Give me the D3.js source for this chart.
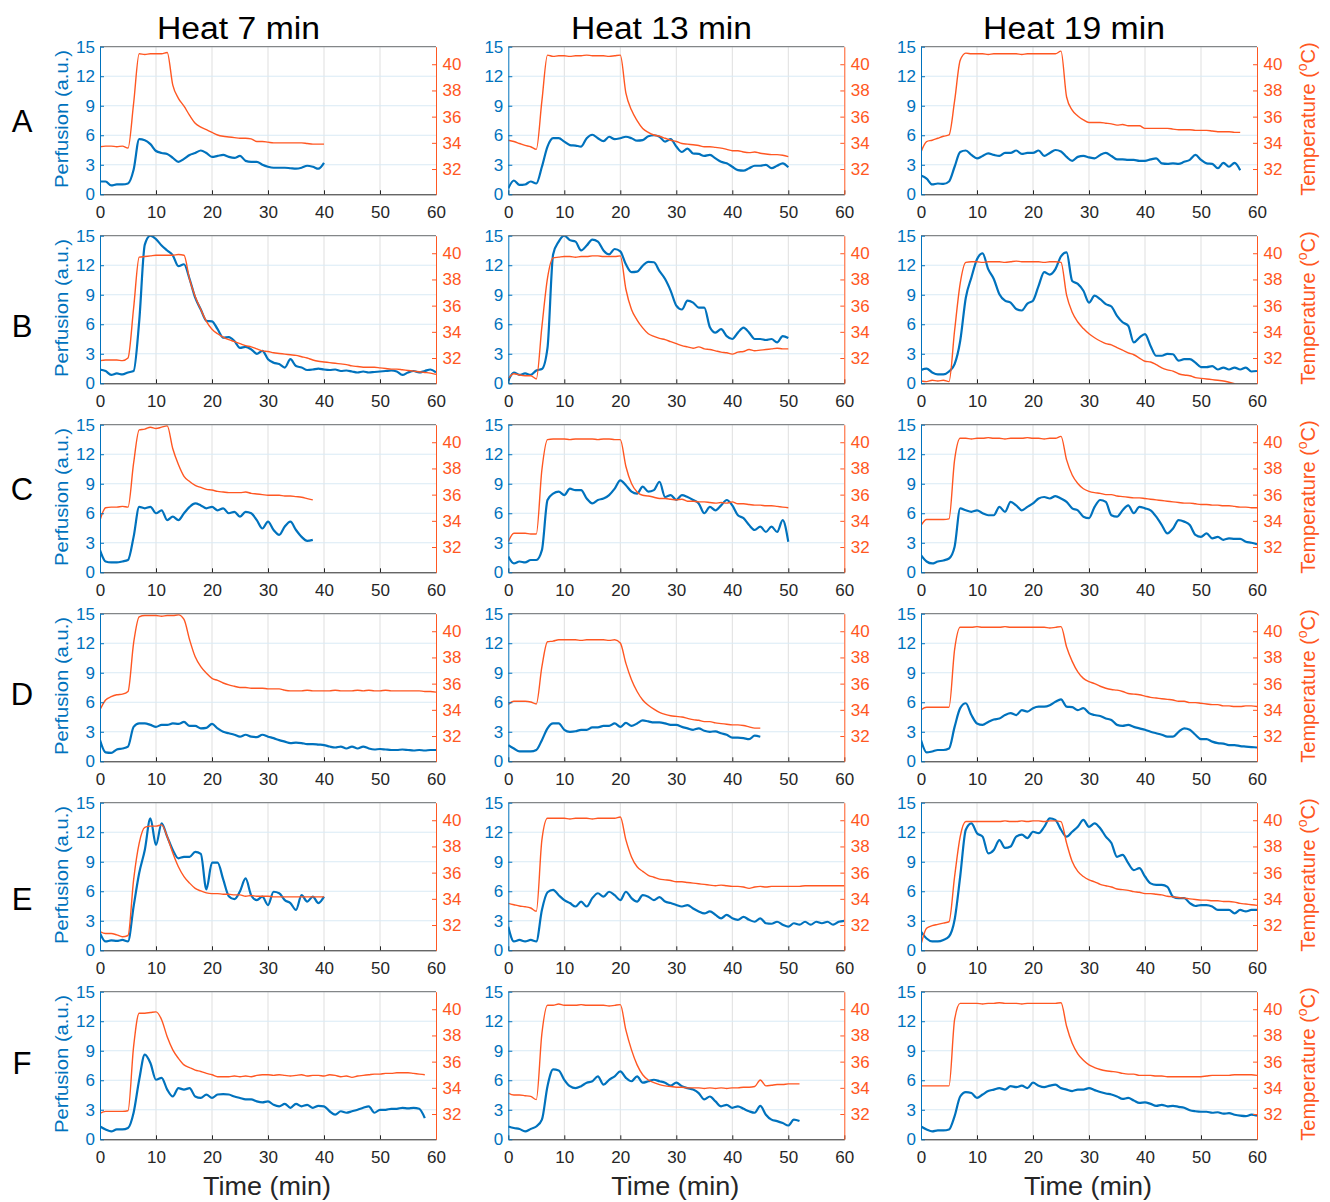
<!DOCTYPE html>
<html>
<head>
<meta charset="utf-8">
<script src="https://cdn.jsdelivr.net/npm/d3@7"></script>
<style>
body { margin: 0; background: #fff; }
svg { display: block; font-family: "Liberation Sans", Arial, sans-serif; }
</style>
</head>
<body>
<script>
// tick values and labels
const xTicks = [0, 10, 20, 30, 40, 50, 60];
const perfTicks = [0, 3, 6, 9, 12, 15];
const tempTicks = [32, 34, 36, 38, 40];
const columnTitles = ["Heat 7 min", "Heat 13 min", "Heat 19 min"];
const rowLabels = ["A", "B", "C", "D", "E", "F"];

// one value per minute, starting at t = 0
const perfA7 = [1.3,1.3,0.9,1.0,1.0,1.1,2.5,5.6,5.5,5.1,4.4,4.2,4.1,3.7,3.3,3.6,4.0,4.2,4.45,4.2,3.8,3.9,4.0,3.8,3.7,3.9,3.4,3.3,3.3,3.0,2.8,2.7,2.7,2.7,2.65,2.6,2.7,2.9,2.8,2.6,3.2];
const tempA7 = [33.7,33.75,33.75,33.7,33.75,33.6,37.0,40.8,40.75,40.8,40.8,40.8,40.9,38.4,37.4,36.8,36.1,35.5,35.2,35.0,34.8,34.6,34.5,34.45,34.4,34.35,34.35,34.3,34.1,34.1,34.05,34.0,34.0,34.0,34.0,34.0,34.0,33.95,33.9,33.9,33.9];
const perfA13 = [0.6,1.4,0.95,1.0,1.3,1.1,2.8,4.85,5.7,5.7,5.35,5.0,4.95,4.85,5.7,6.05,5.7,5.4,5.85,5.6,5.7,5.85,5.7,5.45,5.5,5.9,6.0,5.85,5.35,5.6,4.85,4.3,4.65,4.15,4.1,3.9,4.0,3.65,3.3,3.15,2.8,2.45,2.4,2.65,2.9,2.9,3.0,2.65,2.9,3.15,2.75];
const tempA13 = [34.2,34.1,33.95,33.8,33.7,33.5,37.2,40.7,40.6,40.65,40.65,40.6,40.65,40.65,40.7,40.65,40.65,40.65,40.6,40.65,40.7,37.8,36.5,35.7,35.1,34.8,34.6,34.5,34.35,34.2,34.1,33.95,33.9,33.85,33.8,33.7,33.7,33.65,33.6,33.5,33.4,33.4,33.3,33.25,33.3,33.2,33.15,33.1,33.1,33.05,32.95];
const perfA19 = [1.9,1.6,1.0,1.1,1.05,1.3,2.8,4.3,4.45,4.0,3.65,3.9,4.15,4.0,3.9,4.2,4.2,4.45,4.1,4.2,4.2,4.45,3.9,4.2,4.5,4.35,3.8,3.4,3.8,3.9,3.75,3.65,4.0,4.2,3.9,3.55,3.55,3.5,3.5,3.4,3.4,3.55,3.65,3.15,3.1,3.15,3.1,3.3,3.5,4.0,3.5,3.15,3.1,2.65,3.2,2.8,3.2,2.45];
const tempA19 = [33.3,34.1,34.2,34.35,34.5,34.6,37.2,40.3,40.85,40.8,40.8,40.8,40.75,40.8,40.8,40.8,40.8,40.8,40.75,40.8,40.8,40.8,40.8,40.8,40.8,41.0,37.5,36.5,36.05,35.75,35.55,35.55,35.55,35.5,35.45,35.35,35.4,35.3,35.3,35.3,35.1,35.1,35.1,35.1,35.1,35.05,35.0,35.0,35.0,34.95,34.95,34.95,34.9,34.85,34.85,34.85,34.8,34.8];

const perfB7 = [1.4,1.25,0.85,1.0,0.9,1.1,1.25,6.3,14.1,15.0,14.65,14.0,13.5,13.0,11.9,12.1,10.6,8.7,7.5,6.35,6.3,5.5,4.65,4.7,4.3,3.6,3.7,3.45,3.0,3.3,2.45,2.1,1.95,1.6,2.45,1.75,1.6,1.35,1.4,1.5,1.4,1.35,1.4,1.25,1.3,1.2,1.1,1.2,1.1,1.15,1.2,1.25,1.3,1.2,0.85,1.1,1.25,1.1,1.25,1.4,1.1];
const tempB7 = [31.8,31.85,31.85,31.85,31.8,32.0,35.8,39.7,39.75,39.8,39.85,39.85,39.85,39.85,39.9,39.85,38.0,36.7,35.7,34.8,34.2,33.85,33.6,33.4,33.25,33.1,32.95,32.85,32.7,32.55,32.5,32.4,32.35,32.3,32.25,32.2,32.1,32.0,31.85,31.75,31.7,31.65,31.6,31.55,31.5,31.4,31.35,31.3,31.3,31.3,31.25,31.2,31.15,31.15,31.1,31.05,31.0,30.95,30.9,30.85,30.75];
const perfB13 = [0.25,1.1,0.85,1.0,0.85,1.3,1.45,3.6,13.1,14.4,15.0,14.55,14.4,13.5,14.0,14.6,14.4,13.5,13.1,13.65,13.4,12.1,11.3,11.35,11.95,12.35,12.3,11.4,10.6,9.4,7.9,7.5,8.4,8.2,7.7,7.7,5.7,5.15,5.5,4.8,4.5,5.15,5.65,5.15,4.5,4.5,4.4,4.5,4.15,4.8,4.6];
const tempB13 = [30.45,30.8,30.7,30.65,30.65,30.4,34.4,38.1,39.65,39.7,39.75,39.75,39.7,39.75,39.75,39.8,39.8,39.75,39.75,39.75,39.8,37.25,35.7,34.9,34.3,33.85,33.65,33.5,33.4,33.25,33.1,32.95,32.85,32.75,32.85,32.7,32.65,32.55,32.45,32.4,32.3,32.45,32.5,32.65,32.55,32.6,32.65,32.7,32.75,32.7,32.7];
const perfB19 = [1.35,1.5,1.1,0.9,0.9,1.2,1.95,4.3,8.7,10.75,12.6,13.2,11.6,10.6,9.05,8.4,8.2,7.55,7.4,8.1,8.4,9.9,11.3,11.05,11.6,12.9,13.3,10.4,10.1,9.4,8.2,8.9,8.55,8.05,7.8,6.85,6.2,5.85,4.15,4.65,5.0,3.8,2.8,2.8,3.0,2.95,2.3,2.45,2.45,2.1,1.65,1.65,1.75,1.4,1.6,1.4,1.6,1.4,1.6,1.2,1.25];
const tempB19 = [30.25,30.2,30.3,30.25,30.3,30.2,34.1,37.7,39.3,39.35,39.35,39.3,39.35,39.35,39.35,39.3,39.35,39.4,39.35,39.35,39.35,39.35,39.3,39.35,39.35,39.3,36.8,35.5,34.75,34.25,33.85,33.55,33.3,33.1,33.0,32.8,32.6,32.4,32.25,32.0,31.75,31.7,31.5,31.25,31.1,31.0,30.8,30.7,30.65,30.5,30.45,30.4,30.35,30.3,30.25,30.15,30.05];

const perfC7 = [2.25,1.1,1.0,1.0,1.1,1.25,3.6,6.65,6.5,6.65,6.0,6.3,5.3,5.65,5.3,6.0,6.65,7.0,6.8,6.5,6.65,6.3,6.5,6.0,6.15,5.65,6.15,6.0,5.3,4.45,5.15,4.3,3.8,4.65,5.15,4.3,3.6,3.2,3.3];
const tempC7 = [34.05,35.0,35.05,35.05,35.1,35.05,38.4,40.95,41.0,41.15,41.05,41.15,41.25,39.5,38.3,37.4,37.0,36.7,36.55,36.4,36.35,36.25,36.2,36.15,36.15,36.15,36.2,36.1,36.05,36.0,35.95,35.95,35.95,35.9,35.9,35.85,35.8,35.7,35.6];
const perfC13 = [1.6,0.9,1.1,1.0,1.25,1.25,2.25,7.35,8.0,8.2,7.85,8.5,8.35,8.35,7.5,7.0,7.35,7.5,7.85,8.5,9.35,8.85,8.2,8.0,8.7,8.2,8.35,9.2,7.65,7.85,7.35,7.85,7.65,7.35,7.0,6.0,6.65,6.3,6.8,7.35,6.8,5.8,5.5,4.8,4.3,4.65,4.1,4.65,4.1,5.3,3.1];
const tempC13 = [32.4,33.05,33.05,33.05,33.0,33.0,37.9,40.2,40.25,40.25,40.25,40.2,40.25,40.25,40.25,40.25,40.2,40.25,40.25,40.2,40.2,38.15,36.85,36.2,35.95,35.9,35.8,35.7,35.7,35.65,35.6,35.65,35.5,35.5,35.45,35.45,35.4,35.35,35.4,35.35,35.45,35.3,35.3,35.25,35.2,35.2,35.15,35.15,35.1,35.05,35.0];
const perfC19 = [1.75,1.1,0.9,1.1,1.2,1.4,2.6,6.5,6.3,6.15,6.3,6.0,5.8,5.8,6.65,6.15,7.15,6.8,6.3,6.65,7.0,7.5,7.65,7.5,7.75,7.5,7.15,6.5,6.3,5.65,5.5,6.65,7.35,7.15,5.8,5.65,6.3,6.8,6.0,6.65,6.5,6.3,5.65,4.8,3.95,4.45,5.3,5.15,4.8,3.8,3.6,3.95,3.45,3.6,3.3,3.45,3.4,3.4,3.1,3.0,2.85];
const tempC19 = [33.65,34.1,34.1,34.1,34.1,34.15,38.65,40.3,40.3,40.25,40.3,40.3,40.35,40.3,40.3,40.25,40.3,40.3,40.3,40.35,40.3,40.3,40.25,40.3,40.3,40.45,38.65,37.5,36.85,36.45,36.25,36.15,36.1,36.0,36.0,35.9,35.85,35.8,35.75,35.75,35.7,35.65,35.6,35.55,35.5,35.45,35.4,35.35,35.35,35.3,35.25,35.25,35.2,35.2,35.15,35.15,35.1,35.05,35.05,35.0,35.0];

const perfD7 = [2.15,0.9,0.85,1.2,1.3,1.5,3.5,3.85,3.85,3.7,3.5,3.7,3.7,3.85,3.8,4.0,3.6,3.6,3.35,3.4,3.8,3.35,3.0,2.85,2.7,2.5,2.7,2.5,2.45,2.7,2.5,2.35,2.15,2.0,1.85,1.9,1.85,1.75,1.75,1.7,1.65,1.5,1.4,1.5,1.3,1.5,1.3,1.5,1.3,1.2,1.25,1.2,1.15,1.15,1.2,1.15,1.1,1.15,1.1,1.15,1.15];
const tempD7 = [34.0,34.75,35.0,35.15,35.2,35.4,39.1,41.1,41.2,41.2,41.2,41.15,41.2,41.2,41.25,40.9,39.35,38.05,37.3,36.8,36.4,36.25,36.05,35.9,35.8,35.7,35.7,35.65,35.65,35.65,35.6,35.6,35.6,35.5,35.45,35.45,35.45,35.5,35.45,35.45,35.45,35.45,35.5,35.45,35.45,35.45,35.5,35.45,35.5,35.45,35.45,35.5,35.45,35.45,35.45,35.45,35.45,35.45,35.4,35.4,35.35];
const perfD13 = [1.65,1.3,1.0,1.0,1.0,1.15,2.15,3.35,3.85,3.85,3.2,3.0,3.05,3.2,3.2,3.45,3.45,3.6,3.6,3.85,3.5,3.9,3.6,3.85,4.15,4.05,3.95,3.95,3.85,3.7,3.7,3.5,3.35,3.2,3.35,3.1,3.0,3.05,2.85,2.7,2.4,2.4,2.35,2.25,2.6,2.5];
const tempD13 = [34.4,34.65,34.65,34.65,34.6,34.45,37.3,39.2,39.25,39.35,39.35,39.35,39.35,39.3,39.35,39.35,39.35,39.35,39.3,39.35,39.1,37.55,36.3,35.4,34.75,34.35,34.05,33.8,33.65,33.55,33.5,33.45,33.35,33.25,33.2,33.1,33.1,33.0,32.95,32.9,32.85,32.85,32.8,32.7,32.6,32.6];
const perfD19 = [2.15,0.9,1.0,1.15,1.15,1.3,3.5,5.4,5.9,4.7,3.85,3.7,4.0,4.25,4.35,4.7,4.9,4.7,5.2,5.05,5.4,5.55,5.55,5.7,6.05,6.3,5.55,5.5,5.2,5.4,4.9,4.7,4.6,4.35,4.2,3.7,3.6,3.7,3.5,3.35,3.2,3.0,2.85,2.7,2.5,2.5,3.0,3.35,3.2,2.7,2.25,2.25,2.0,1.85,1.8,1.65,1.65,1.55,1.5,1.45,1.4];
const tempD19 = [34.0,34.2,34.2,34.2,34.2,34.2,38.6,40.3,40.3,40.3,40.35,40.3,40.3,40.3,40.3,40.35,40.3,40.3,40.3,40.3,40.3,40.3,40.3,40.25,40.3,40.35,38.8,37.7,36.9,36.4,36.15,36.0,35.8,35.65,35.55,35.5,35.4,35.25,35.2,35.15,35.05,34.95,34.9,34.85,34.8,34.75,34.65,34.65,34.55,34.55,34.5,34.45,34.4,34.4,34.3,34.3,34.25,34.25,34.3,34.3,34.25];

const perfE7 = [1.75,0.9,1.0,0.95,1.05,0.9,4.45,7.85,10.2,13.4,10.7,12.9,11.55,10.2,9.35,9.5,9.5,10.0,9.8,6.2,8.9,8.9,7.2,5.5,5.2,6.0,7.3,5.6,5.1,5.45,4.6,5.95,5.8,5.1,4.8,4.1,5.6,4.95,5.45,4.8,5.45];
const tempE7 = [31.5,31.35,31.35,31.25,31.1,31.2,35.45,38.25,39.45,39.55,39.55,39.65,38.75,37.5,36.45,35.7,35.2,34.8,34.6,34.45,34.4,34.4,34.35,34.35,34.3,34.3,34.2,34.25,34.2,34.2,34.2,34.15,34.15,34.15,34.15,34.15,34.15,34.15,34.15,34.15,34.15];
const perfE13 = [2.4,0.9,1.05,0.9,1.05,0.9,4.1,5.9,6.15,5.6,5.1,4.8,4.45,4.95,4.45,5.3,5.8,5.45,5.95,5.6,5.1,5.95,5.3,4.95,5.6,5.45,5.1,5.4,4.95,4.8,4.6,4.45,4.6,4.25,3.95,3.75,3.95,3.6,3.25,3.6,3.25,3.1,3.4,3.1,2.9,3.25,2.75,2.7,2.9,2.6,2.4,2.75,2.6,2.9,2.6,2.9,2.75,2.9,2.6,2.9,3.0];
const tempE13 = [33.65,33.55,33.45,33.4,33.3,33.05,38.5,40.15,40.15,40.15,40.15,40.1,40.15,40.15,40.15,40.1,40.15,40.15,40.15,40.15,40.25,38.5,37.2,36.45,36.1,35.8,35.65,35.5,35.45,35.4,35.3,35.3,35.25,35.2,35.15,35.1,35.05,35.0,35.05,35.0,34.95,34.95,34.9,34.8,34.9,34.95,34.9,34.95,34.95,34.95,34.95,34.95,34.95,35.0,35.0,35.0,35.0,35.0,35.0,35.0,35.0];
const perfE19 = [1.9,1.2,0.9,0.9,1.05,1.4,3.1,7.5,12.25,12.9,11.9,11.55,9.85,10.2,11.2,10.4,10.55,11.55,11.75,11.4,12.05,11.9,12.55,13.4,13.25,12.25,11.55,12.05,12.55,13.25,12.55,12.9,12.4,11.55,10.9,9.5,9.7,8.85,8.15,8.35,7.5,6.8,6.65,6.65,6.45,5.45,5.3,5.3,4.8,4.5,4.6,4.6,4.45,4.1,4.1,4.1,3.75,4.1,3.95,4.1,4.1];
const tempE19 = [30.5,31.75,31.95,32.05,32.15,32.25,35.7,38.75,39.9,39.9,39.9,39.9,39.9,39.9,39.9,39.95,39.9,39.9,39.95,39.9,39.95,39.95,39.9,39.95,39.95,39.9,38.25,36.85,36.1,35.7,35.45,35.3,35.1,35.0,34.9,34.75,34.7,34.65,34.55,34.5,34.4,34.4,34.35,34.3,34.2,34.15,34.1,34.05,34.0,33.95,33.9,33.9,33.85,33.85,33.8,33.8,33.75,33.65,33.6,33.55,33.5];

const perfF7 = [1.3,1.0,0.8,1.0,1.0,1.15,2.7,6.05,8.6,7.75,6.05,6.25,5.05,4.35,5.2,5.05,5.2,4.35,4.2,4.55,4.2,4.55,4.6,4.55,4.35,4.2,4.05,4.05,3.85,3.75,3.85,3.5,3.35,3.6,3.2,3.6,3.35,3.5,3.2,3.4,3.35,2.85,2.5,2.85,2.7,2.85,3.0,3.2,3.35,2.7,3.0,3.0,3.1,3.1,3.2,3.15,3.2,3.1,2.15];
const tempF7 = [32.05,32.2,32.2,32.2,32.2,32.25,37.15,39.7,39.7,39.75,39.8,39.2,37.9,36.9,36.25,35.75,35.55,35.35,35.25,35.1,35.0,34.85,34.85,34.85,34.9,34.85,34.9,34.85,34.95,35.0,35.0,34.95,35.0,34.95,34.9,34.95,35.0,34.9,34.95,34.95,34.9,35.0,34.95,34.85,34.9,34.8,34.9,34.95,35.0,35.05,35.05,35.1,35.1,35.15,35.15,35.15,35.1,35.05,35.0];
const perfF13 = [1.3,1.15,1.05,0.8,1.05,1.3,2.0,5.4,7.1,7.0,6.05,5.4,5.2,5.4,5.75,5.9,6.4,5.55,6.05,6.4,6.9,6.25,5.9,6.4,5.75,5.9,6.05,5.9,5.75,5.45,5.75,5.4,5.2,5.05,4.7,4.05,4.35,3.85,3.35,3.5,3.2,3.35,3.1,2.85,2.7,3.4,2.5,2.0,1.85,1.65,1.4,2.0,1.85];
const tempF13 = [33.6,33.45,33.45,33.4,33.35,33.1,38.15,40.3,40.3,40.4,40.3,40.3,40.3,40.35,40.3,40.3,40.3,40.3,40.25,40.3,40.35,38.4,36.9,35.75,35.0,34.6,34.4,34.25,34.15,34.1,34.05,34.05,34.0,34.0,34.0,33.95,34.0,33.95,34.0,33.95,34.0,34.0,34.05,34.05,34.1,34.6,34.15,34.2,34.25,34.25,34.3,34.3,34.3];
const perfF19 = [1.3,1.0,0.8,0.9,0.9,1.0,2.35,4.35,4.8,4.7,4.2,4.55,4.9,5.05,5.2,5.05,5.4,5.3,5.45,5.2,5.75,5.45,5.3,5.45,5.55,5.2,5.05,4.9,5.05,5.05,5.2,5.0,4.8,4.65,4.55,4.35,4.1,4.2,3.95,3.7,3.75,3.6,3.4,3.5,3.35,3.4,3.3,3.2,2.95,2.85,2.8,2.8,2.7,2.75,2.6,2.65,2.5,2.4,2.35,2.5,2.4];
const tempF19 = [34.15,34.15,34.15,34.15,34.15,34.15,39.2,40.45,40.45,40.45,40.45,40.4,40.45,40.45,40.5,40.45,40.45,40.45,40.4,40.45,40.45,40.45,40.45,40.45,40.45,40.5,38.7,37.4,36.6,36.1,35.75,35.55,35.4,35.3,35.25,35.2,35.1,35.05,35.05,34.95,34.95,34.95,34.9,34.9,34.85,34.85,34.85,34.85,34.85,34.85,34.85,34.9,34.95,34.95,34.95,34.95,35.0,35.0,35.0,35.0,34.95];

const panels = [
  {row: 0, col: 0, perf: perfA7, temp: tempA7}, {row: 0, col: 1, perf: perfA13, temp: tempA13}, {row: 0, col: 2, perf: perfA19, temp: tempA19},
  {row: 1, col: 0, perf: perfB7, temp: tempB7}, {row: 1, col: 1, perf: perfB13, temp: tempB13}, {row: 1, col: 2, perf: perfB19, temp: tempB19},
  {row: 2, col: 0, perf: perfC7, temp: tempC7}, {row: 2, col: 1, perf: perfC13, temp: tempC13}, {row: 2, col: 2, perf: perfC19, temp: tempC19},
  {row: 3, col: 0, perf: perfD7, temp: tempD7}, {row: 3, col: 1, perf: perfD13, temp: tempD13}, {row: 3, col: 2, perf: perfD19, temp: tempD19},
  {row: 4, col: 0, perf: perfE7, temp: tempE7}, {row: 4, col: 1, perf: perfE13, temp: tempE13}, {row: 4, col: 2, perf: perfE19, temp: tempE19},
  {row: 5, col: 0, perf: perfF7, temp: tempF7}, {row: 5, col: 1, perf: perfF13, temp: tempF13}, {row: 5, col: 2, perf: perfF19, temp: tempF19}
];

// layout
const colX = [100, 508.3, 921];
const rowTop = 46.7, rowStep = 189;
const pw = 336, ph = 147.6;
const blue = "#0072BD", orange = "#FF5722", ink = "#262626";

const svg = d3.select("body").append("svg")
  .attr("width", 1330).attr("height", 1202);

const x = d3.scaleLinear().domain([0, 60]).range([0, pw]);
const yP = d3.scaleLinear().domain([0, 15]).range([ph, 0]);
const yT = d3.scaleLinear().domain([30.07, 41.34]).range([ph, 0]);

const linePerf = d3.line().x((d, i) => x(i)).y(d => yP(d)).curve(d3.curveMonotoneX);
const lineTemp = d3.line().x((d, i) => x(i)).y(d => yT(d)).curve(d3.curveMonotoneX);

function styleAxis(sel, color, textColor) {
  sel.select(".domain").attr("stroke", color);
  sel.selectAll(".tick line").attr("stroke", color);
  sel.selectAll(".tick text").attr("fill", textColor).style("font-size", "17px");
  sel.attr("font-family", null);
}

panels.forEach((p, i) => {
  const g = svg.append("g")
    .attr("transform", `translate(${colX[p.col]},${rowTop + p.row * rowStep})`);

  g.append("clipPath").attr("id", "clip" + i)
    .append("rect").attr("width", pw).attr("height", ph);

  // grid
  g.append("g").selectAll("line").data(xTicks.slice(1, -1)).join("line")
    .attr("x1", d => x(d)).attr("x2", d => x(d))
    .attr("y1", 0).attr("y2", ph)
    .attr("stroke", "#dfdfdf").attr("stroke-width", 1);
  g.append("g").selectAll("line").data(perfTicks.slice(1)).join("line")
    .attr("x1", 0).attr("x2", pw)
    .attr("y1", d => yP(d)).attr("y2", d => yP(d))
    .attr("stroke", "#d9eaf5").attr("stroke-width", 1);

  const plot = g.append("g").attr("clip-path", `url(#clip${i})`);
  plot.append("path").datum(p.perf)
    .attr("d", linePerf)
    .attr("fill", "none").attr("stroke", blue).attr("stroke-width", 2.2);
  plot.append("path").datum(p.temp)
    .attr("d", lineTemp)
    .attr("fill", "none").attr("stroke", orange).attr("stroke-width", 1.4);

  // frame top
  g.append("line").attr("x1", 0).attr("x2", pw).attr("y1", 0).attr("y2", 0)
    .attr("stroke", "#6e6e6e").attr("stroke-width", 1);

  const ax = g.append("g").attr("transform", `translate(0,${ph})`)
    .call(d3.axisBottom(x).tickValues(xTicks).tickSize(-4).tickSizeOuter(0).tickPadding(11.5));
  styleAxis(ax, ink, ink);

  const ayl = g.append("g")
    .call(d3.axisLeft(yP).tickValues(perfTicks).tickSize(-4).tickSizeOuter(0).tickPadding(5));
  styleAxis(ayl, blue, blue);

  const ayr = g.append("g").attr("transform", `translate(${pw},0)`)
    .call(d3.axisRight(yT).tickValues(tempTicks).tickSize(-4).tickSizeOuter(0).tickPadding(6.5));
  styleAxis(ayr, orange, orange);

  const cy = rowTop + p.row * rowStep + ph / 2 - 1.5;
  if (p.col === 0) {
    svg.append("text")
      .attr("transform", `translate(68,${cy}) rotate(-90)`)
      .attr("text-anchor", "middle")
      .attr("fill", blue)
      .style("font-size", "19px")
      .attr("textLength", 138).attr("lengthAdjust", "spacingAndGlyphs")
      .text("Perfusion (a.u.)");
  }
  if (p.col === 2) {
    const t = svg.append("text")
      .attr("transform", `translate(1315,${cy}) rotate(-90)`)
      .attr("text-anchor", "middle")
      .attr("fill", orange)
      .style("font-size", "20px");
    t.append("tspan").text("Temperature (");
    t.append("tspan").attr("baseline-shift", "super").style("font-size", "14px").text("o");
    t.append("tspan").text("C)");
  }
});

// column titles
const titleX = [157, 571, 983];
const titleW = [163, 181, 182];
columnTitles.forEach((s, c) => {
  svg.append("text")
    .attr("x", titleX[c]).attr("y", 39)
    .attr("fill", "#000")
    .style("font-size", "31px")
    .attr("textLength", titleW[c]).attr("lengthAdjust", "spacingAndGlyphs")
    .text(s);
});

// row letters
const letterY = [132, 337, 500, 705, 910, 1074];
rowLabels.forEach((s, r) => {
  svg.append("text")
    .attr("x", 22).attr("y", letterY[r])
    .attr("text-anchor", "middle")
    .attr("fill", "#000")
    .style("font-size", "31px")
    .text(s);
});

// x axis titles
colX.forEach(cx => {
  svg.append("text")
    .attr("x", cx + pw / 2 - 1).attr("y", 1195)
    .attr("text-anchor", "middle")
    .attr("fill", ink)
    .style("font-size", "25px")
    .attr("textLength", 128).attr("lengthAdjust", "spacingAndGlyphs")
    .text("Time (min)");
});
</script>
</body>
</html>
